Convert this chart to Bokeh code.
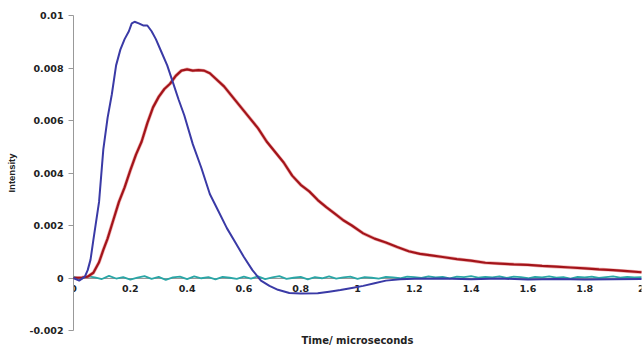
from bokeh.plotting import figure
from bokeh.models import Range1d, FixedTicker, CustomJSTickFormatter, Title
from bokeh.embed import file_html
from bokeh.resources import INLINE

# ---- data ----
x_ticks = [0, 0.2, 0.4, 0.6, 0.8, 1, 1.2, 1.4, 1.6, 1.8, 2]
y_ticks = [-0.002, 0, 0.002, 0.004, 0.006, 0.008, 0.01]

blue_t = [0, 0.02, 0.04, 0.05, 0.06, 0.07, 0.09, 0.105, 0.12, 0.135, 0.15, 0.165, 0.18,
          0.195, 0.205, 0.215, 0.23, 0.245, 0.26, 0.275, 0.29, 0.31, 0.33, 0.35, 0.37,
          0.39, 0.42, 0.45, 0.48, 0.51, 0.54, 0.57, 0.60, 0.63, 0.66, 0.69, 0.72, 0.76,
          0.80, 0.86, 0.90, 0.94, 0.98, 1.02, 1.06, 1.10, 1.15, 1.2, 1.3, 1.4, 1.5, 1.6,
          1.7, 1.8, 1.9, 2.0]
blue_v = [0, -0.0001, 0.00005, 0.0003, 0.0007, 0.00145, 0.0029, 0.0049, 0.0061, 0.0070,
          0.0081, 0.0087, 0.0091, 0.0094, 0.0097, 0.00976, 0.0097, 0.00962, 0.00962,
          0.0094, 0.0091, 0.0086, 0.0081, 0.00745, 0.0068, 0.0062, 0.0051, 0.0042,
          0.0032, 0.00255, 0.0019, 0.00135, 0.0008, 0.0003, -0.0001, -0.0003, -0.00045,
          -0.00057, -0.00059, -0.00058, -0.00052, -0.00046, -0.00038, -0.0003, -0.0002,
          -0.0001, -0.00005, -0.00003, -0.00002, -0.00005, -0.00002, -0.00006, -0.00004,
          -0.00006, -0.00005, -0.00004]

red_t = [0, 0.03, 0.05, 0.07, 0.09, 0.105, 0.12, 0.14, 0.16, 0.18, 0.2, 0.22, 0.24, 0.26,
         0.28, 0.30, 0.32, 0.34, 0.36, 0.38, 0.40, 0.42, 0.44, 0.46, 0.48, 0.50, 0.53,
         0.56, 0.59, 0.62, 0.65, 0.68, 0.71, 0.74, 0.77, 0.80, 0.83, 0.86, 0.89, 0.92,
         0.95, 0.98, 1.02, 1.06, 1.10, 1.14, 1.18, 1.22, 1.26, 1.30, 1.35, 1.40, 1.45,
         1.50, 1.55, 1.60, 1.65, 1.70, 1.75, 1.80, 1.85, 1.90, 1.95, 2.0]
red_v = [0, 0.00002, 0.00005, 0.0002, 0.0006, 0.00107, 0.0015, 0.0022, 0.0029, 0.00345,
         0.0041, 0.0047, 0.0052, 0.0059, 0.0065, 0.0069, 0.0072, 0.0074, 0.0077, 0.0079,
         0.00795, 0.0079, 0.00792, 0.0079, 0.0078, 0.0076, 0.0073, 0.0069, 0.0065,
         0.0061, 0.0057, 0.0052, 0.0048, 0.0044, 0.0039, 0.00355, 0.0033, 0.00297,
         0.0027, 0.00245, 0.0022, 0.0020, 0.0017, 0.0015, 0.00135, 0.00118, 0.00102,
         0.00092, 0.00086, 0.0008, 0.00072, 0.00066, 0.00058, 0.00055, 0.00052, 0.0005,
         0.00046, 0.00043, 0.0004, 0.00037, 0.00033, 0.0003, 0.00026, 0.00022]

cyan_v = [0.00005, -0.00003, 0.00006, 0.00002, -0.00004, 0.00008, -0.00002, 0.00003,
          -0.00006, 0.00001, 0.00007, -0.00003, 0.00004, -0.00007, 0.00002, 0.00005,
          -0.00004, 0.00006, -0.00001, 0.00003, -0.00005, 0.00004, 0.00001, -0.00003,
          0.00005, -0.00002, 0.00006, -0.00004, 0.00002, 0.00007, -0.00003, 0.00001,
          0.00004, -0.00005, 0.00003, -0.00001, 0.00006, -0.00002, 0.00002, 0.00005,
          -0.00003, 0.00003, 0.00001, -0.00002, 0.00004, 0.00002, -0.00001, 0.00005,
          0.00003, 0.0, 0.00006, 0.00002, 0.00004, -0.00001, 0.00005, 0.00003, 0.00007,
          0.00001, 0.00004, 0.00002, 0.00006, 0.0, 0.00005, 0.00003, -0.00001, 0.00004,
          0.00002, 0.00006, 0.00001, 0.00003, -0.00002, 0.00004, 0.00002, 0.00005, 0.0,
          0.00003, 0.00006, 0.00001, 0.00004, 0.00002, 0.00003]
cyan_t = [i * 2.0 / (len(cyan_v) - 1) for i in range(len(cyan_v))]

# ---- figure ----
p = figure(width=644, height=348, output_backend="svg", toolbar_location=None,
           x_range=Range1d(0, 2), y_range=Range1d(-0.002, 0.01),
           min_border_top=15, min_border_left=73, min_border_right=3, min_border_bottom=18)
p.outline_line_color = None
p.xgrid.visible = False
p.ygrid.visible = False
p.background_fill_color = "white"

fmt = CustomJSTickFormatter(code="return tick.toString();")

xa = p.xaxis[0]
xa.fixed_location = 0
xa.ticker = FixedTicker(ticks=x_ticks)
xa.formatter = fmt
xa.axis_line_color = "#999999"
xa.major_tick_in = 0
xa.major_tick_out = 0
xa.minor_tick_line_color = None
xa.major_label_standoff = 7
xa.major_label_text_font = "DejaVu Sans"
xa.major_label_text_font_style = "bold"
xa.major_label_text_font_size = "9.5px"
xa.major_label_text_color = "#222222"

ya = p.yaxis[0]
ya.ticker = FixedTicker(ticks=y_ticks)
ya.formatter = fmt
ya.axis_line_color = "#999999"
ya.major_tick_line_color = "#999999"
ya.major_tick_in = 0
ya.major_tick_out = 5
ya.minor_tick_line_color = None
ya.major_label_standoff = 5
ya.major_label_text_font = "DejaVu Sans"
ya.major_label_text_font_style = "bold"
ya.major_label_text_font_size = "9.5px"
ya.major_label_text_color = "#222222"
ya.axis_label = "Intensity"
ya.axis_label_text_font = "Liberation Sans"
ya.axis_label_text_font_style = "bold"
ya.axis_label_text_font_size = "9.5px"
ya.axis_label_text_color = "#222222"
ya.axis_label_standoff = 10

p.add_layout(Title(text="Time/ microseconds", align="center", text_font="DejaVu Sans",
                   text_font_style="bold", text_font_size="10px", text_color="#222222",
                   standoff=4),
             "below")

r1 = p.line(cyan_t, cyan_v, line_color="#2aa6a6", line_width=1.8)
r2 = p.line(red_t, red_v, line_color="#e06060", line_width=3.5, line_alpha=0.5)
r3 = p.line(red_t, red_v, line_color="#a3141a", line_width=2.2)
r4 = p.line(blue_t, blue_v, line_color="#3a3aa6", line_width=2)
for r in (r1, r2, r3, r4):
    r.level = "overlay"

open("out.html", "w").write(file_html(p, INLINE))
